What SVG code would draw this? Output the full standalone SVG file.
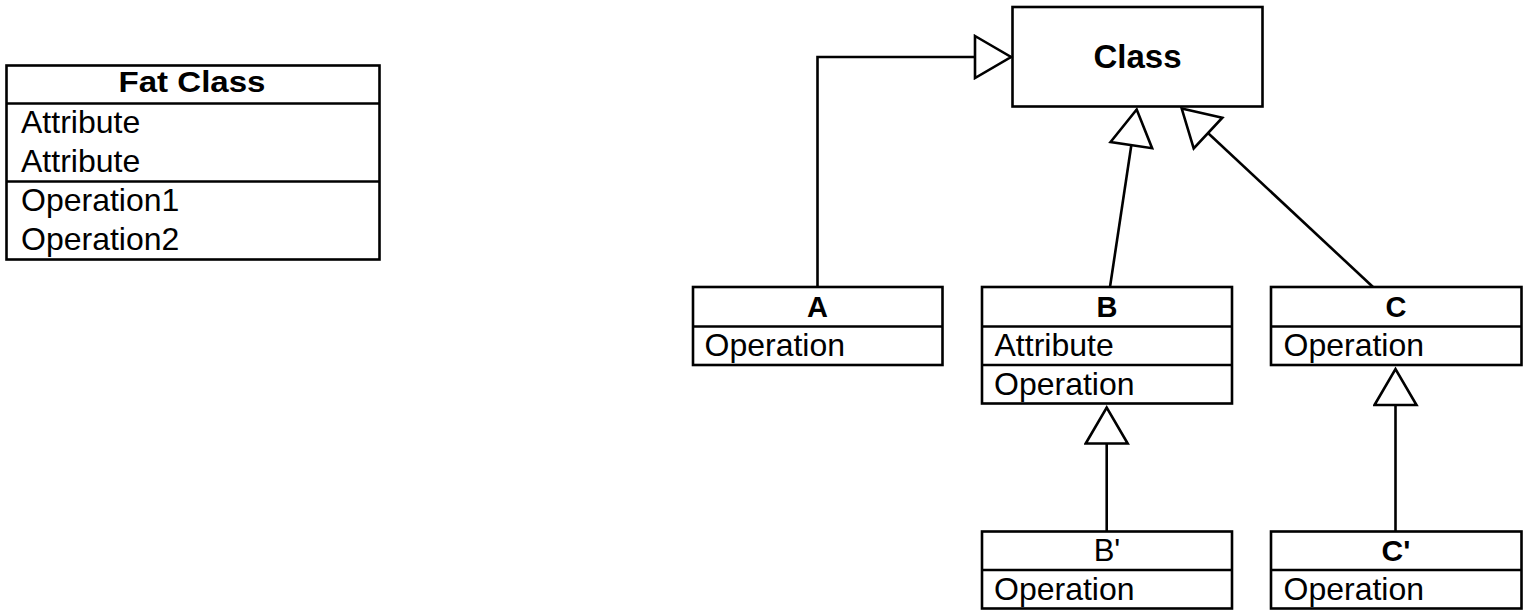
<svg xmlns="http://www.w3.org/2000/svg" width="1525" height="614" viewBox="0 0 1525 614">
<style>
.box{fill:#fff;stroke:#000;stroke-width:2.6}
.div{stroke:#000;stroke-width:2.6;fill:none}
.t{font-family:"Liberation Sans",Arial,Helvetica,sans-serif;font-size:32px;fill:#000}
.h{font-family:"Liberation Sans",Arial,Helvetica,sans-serif;font-size:29px;font-weight:bold;fill:#000;text-anchor:middle}
.conn{stroke:#000;stroke-width:2.6;fill:none}
</style>
<defs>
<marker id="tri" markerUnits="userSpaceOnUse" markerWidth="42" markerHeight="46" refX="36" refY="21" orient="auto" viewBox="-2 -2 42 46">
<path d="M0,0 L36,21 L0,42 Z" fill="#fff" stroke="#000" stroke-width="2.6" stroke-linejoin="miter"/>
</marker>
</defs>

<g id="fatclass">
<rect class="box" x="6.5" y="65.5" width="373" height="194"/>
<line class="div" x1="6.5" y1="103.5" x2="379.5" y2="103.5"/>
<line class="div" x1="6.5" y1="181.5" x2="379.5" y2="181.5"/>
<text class="h" x="192" y="92" style="font-size:30px" textLength="147" lengthAdjust="spacingAndGlyphs">Fat Class</text>
<text class="t" x="21" y="133">Attribute</text>
<text class="t" x="21" y="172">Attribute</text>
<text class="t" x="21" y="211">Operation1</text>
<text class="t" x="21" y="250">Operation2</text>
</g>

<g id="class">
<rect class="box" x="1012.5" y="7" width="250" height="99.5"/>
<text class="h" x="1137.5" y="68" style="font-size:33px">Class</text>
</g>

<g id="A">
<rect class="box" x="693" y="287" width="249.5" height="78"/>
<line class="div" x1="693" y1="326.5" x2="942.5" y2="326.5"/>
<text class="h" x="817.5" y="317">A</text>
<text class="t" x="704.5" y="356">Operation</text>
</g>

<g id="B">
<rect class="box" x="982" y="287" width="250" height="116.5"/>
<line class="div" x1="982" y1="326.5" x2="1232" y2="326.5"/>
<line class="div" x1="982" y1="365" x2="1232" y2="365"/>
<text class="h" x="1107" y="317">B</text>
<text class="t" x="994.5" y="356">Attribute</text>
<text class="t" x="994" y="395">Operation</text>
</g>

<g id="C">
<rect class="box" x="1271" y="287" width="250.5" height="78"/>
<line class="div" x1="1271" y1="326.5" x2="1521.5" y2="326.5"/>
<text class="h" x="1396" y="317">C</text>
<text class="t" x="1283.5" y="356">Operation</text>
</g>

<g id="Bprime">
<rect class="box" x="982" y="531.5" width="250" height="77"/>
<line class="div" x1="982" y1="570" x2="1232" y2="570"/>
<text class="t" x="1107" y="561" style="font-size:31px;text-anchor:middle">B'</text>
<text class="t" x="994" y="600">Operation</text>
</g>

<g id="Cprime">
<rect class="box" x="1271" y="531.5" width="250.5" height="77"/>
<line class="div" x1="1271" y1="570" x2="1521.5" y2="570"/>
<text class="h" x="1396" y="561" style="font-size:30px">C'</text>
<text class="t" x="1283.5" y="600">Operation</text>
</g>

<g id="connectors">
<path class="conn" d="M817.5,287 L817.5,57 L1011,57" marker-end="url(#tri)"/>
<path class="conn" d="M1110,287 L1136.7,109.5" marker-end="url(#tri)"/>
<path class="conn" d="M1373,287 L1181.7,108.5" marker-end="url(#tri)"/>
<path class="conn" d="M1106.7,531.5 L1106.7,407.5" marker-end="url(#tri)"/>
<path class="conn" d="M1395.5,531.5 L1395.5,369" marker-end="url(#tri)"/>
</g>
</svg>
